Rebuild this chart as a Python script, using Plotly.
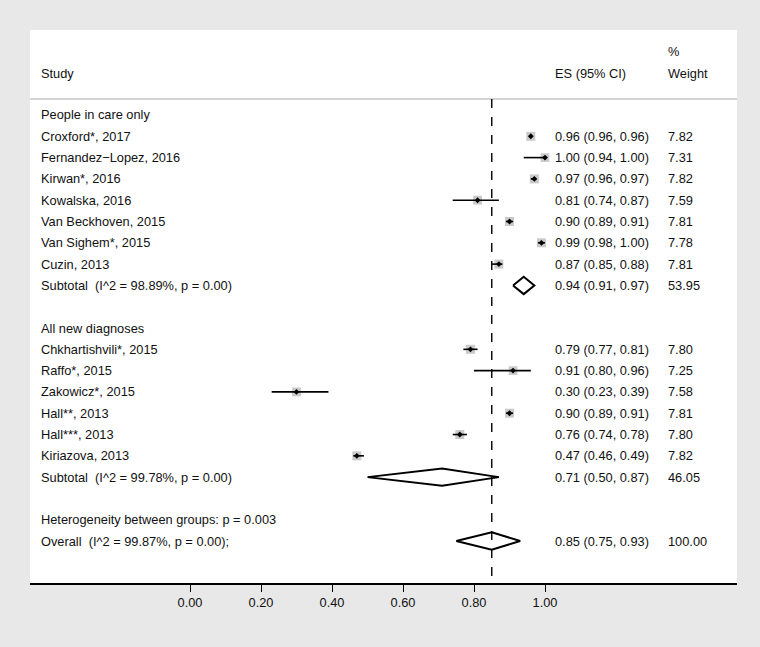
import plotly.graph_objects as go

# ---- data ----
group1_label = "People in care only"
group1_studies = ["Croxford*, 2017", "Fernandez\u2212Lopez, 2016", "Kirwan*, 2016", "Kowalska, 2016",
                  "Van Beckhoven, 2015", "Van Sighem*, 2015", "Cuzin, 2013"]
group1_es = [0.96, 1.00, 0.97, 0.81, 0.90, 0.99, 0.87]
group1_lo = [0.96, 0.94, 0.96, 0.74, 0.89, 0.98, 0.85]
group1_hi = [0.96, 1.00, 0.97, 0.87, 0.91, 1.00, 0.88]
group1_w = [7.82, 7.31, 7.82, 7.59, 7.81, 7.78, 7.81]
group1_sub = {"label": "Subtotal\u00a0 (I^2 = 98.89%, p = 0.00)", "es": 0.94, "lo": 0.91, "hi": 0.97, "w": 53.95}

group2_label = "All new diagnoses"
group2_studies = ["Chkhartishvili*, 2015", "Raffo*, 2015", "Zakowicz*, 2015", "Hall**, 2013",
                  "Hall***, 2013", "Kiriazova, 2013"]
group2_es = [0.79, 0.91, 0.30, 0.90, 0.76, 0.47]
group2_lo = [0.77, 0.80, 0.23, 0.89, 0.74, 0.46]
group2_hi = [0.81, 0.96, 0.39, 0.91, 0.78, 0.49]
group2_w = [7.80, 7.25, 7.58, 7.81, 7.80, 7.82]
group2_sub = {"label": "Subtotal\u00a0 (I^2 = 99.78%, p = 0.00)", "es": 0.71, "lo": 0.50, "hi": 0.87, "w": 46.05}

heterogeneity_text = "Heterogeneity between groups: p = 0.003"
overall = {"label": "Overall\u00a0 (I^2 = 99.87%, p = 0.00);", "es": 0.85, "lo": 0.75, "hi": 0.93, "w": 100.00}

tick_vals = [0.0, 0.2, 0.4, 0.6, 0.8, 1.0]
tick_text = ["0.00", "0.20", "0.40", "0.60", "0.80", "1.00"]

# ---- layout of rows ----
rows = []  # (row index, kind, label, es, lo, hi, w)
r = 0
rows.append((r, "group", group1_label, None, None, None, None)); r += 1
for s, e, lo, hi, w in zip(group1_studies, group1_es, group1_lo, group1_hi, group1_w):
    rows.append((r, "study", s, e, lo, hi, w)); r += 1
rows.append((r, "sub", group1_sub["label"], group1_sub["es"], group1_sub["lo"], group1_sub["hi"], group1_sub["w"])); r += 2
rows.append((r, "group", group2_label, None, None, None, None)); r += 1
for s, e, lo, hi, w in zip(group2_studies, group2_es, group2_lo, group2_hi, group2_w):
    rows.append((r, "study", s, e, lo, hi, w)); r += 1
rows.append((r, "sub", group2_sub["label"], group2_sub["es"], group2_sub["lo"], group2_sub["hi"], group2_sub["w"])); r += 2
rows.append((r, "group", heterogeneity_text, None, None, None, None)); r += 1
rows.append((r, "sub", overall["label"], overall["es"], overall["lo"], overall["hi"], overall["w"]))

FONT = "Liberation Sans, Arial, Helvetica, sans-serif"
FS = 12.8

fig = go.Figure()

# squares
st = [row for row in rows if row[1] == "study"]
fig.add_trace(go.Scatter(
    x=[row[3] for row in st], y=[row[0] for row in st], mode="markers",
    marker=dict(symbol="square", size=[9 * (row[6] / 7.82) ** 0.5 for row in st],
                color="#b4b4b4", line=dict(width=0)),
    hoverinfo="skip", showlegend=False))

# CI lines
cx, cy = [], []
for row in st:
    cx += [row[4], row[5], None]
    cy += [row[0], row[0], None]
fig.add_trace(go.Scatter(x=cx, y=cy, mode="lines", line=dict(color="black", width=1.6),
                         hoverinfo="skip", showlegend=False))

# point estimates
fig.add_trace(go.Scatter(
    x=[row[3] for row in st], y=[row[0] for row in st], mode="markers",
    marker=dict(symbol="diamond", size=4.5, color="black", line=dict(width=0)),
    hoverinfo="skip", showlegend=False))

# diamonds
dx, dy = [], []
h = 0.41
for row in rows:
    if row[1] == "sub":
        y0, e, lo, hi = row[0], row[3], row[4], row[5]
        dx += [lo, e, hi, e, lo, None]
        dy += [y0, y0 - h, y0, y0 + h, y0, None]
fig.add_trace(go.Scatter(x=dx, y=dy, mode="lines", line=dict(color="black", width=2),
                         hoverinfo="skip", showlegend=False))

ann = []
X_STUDY, X_ES, X_W = 0.0127, 0.7395, 0.8995
for row in rows:
    ann.append(dict(x=X_STUDY, xref="paper", y=row[0], yref="y", text=row[2],
                    xanchor="left", yanchor="middle", showarrow=False))
    if row[3] is not None:
        ann.append(dict(x=X_ES, xref="paper", y=row[0], yref="y",
                        text=f"{row[3]:.2f} ({row[4]:.2f}, {row[5]:.2f})",
                        xanchor="left", yanchor="middle", showarrow=False))
        ann.append(dict(x=X_W, xref="paper", y=row[0], yref="y", text=f"{row[6]:.2f}",
                        xanchor="left", yanchor="middle", showarrow=False))
# headers
ann.append(dict(x=X_STUDY, xref="paper", y=-1.97, yref="y", text="Study",
                xanchor="left", yanchor="middle", showarrow=False))
ann.append(dict(x=X_ES, xref="paper", y=-1.97, yref="y", text="ES (95% CI)",
                xanchor="left", yanchor="middle", showarrow=False))
ann.append(dict(x=X_W, xref="paper", y=-1.97, yref="y", text="Weight",
                xanchor="left", yanchor="middle", showarrow=False))
ann.append(dict(x=X_W, xref="paper", y=-2.96, yref="y", text="%",
                xanchor="left", yanchor="middle", showarrow=False))

shapes = [
    dict(type="line", xref="paper", x0=0, x1=1, yref="y", y0=-0.75, y1=-0.75,
         line=dict(color="#a8a8a8", width=1.2)),
    dict(type="line", xref="x", x0=overall["es"], x1=overall["es"], yref="y", y0=-0.75, y1=21.97,
         line=dict(color="black", width=1.4, dash="dash")),
]

fig.update_layout(
    width=760, height=647,
    margin=dict(l=30, r=23, t=30, b=64),
    paper_bgcolor="#e8e8e8", plot_bgcolor="white",
    font=dict(family=FONT, size=FS, color="#111111"),
    annotations=ann, shapes=shapes,
    xaxis=dict(range=[-0.4507, 1.5408], showgrid=False, zeroline=False,
               tickvals=tick_vals, ticktext=tick_text, ticks="outside", ticklen=7,
               tickwidth=1.3, tickcolor="black", showline=True, linecolor="black",
               linewidth=1.5, tickfont=dict(family=FONT, size=FS, color="#111111")),
    yaxis=dict(range=[21.97, -3.99], showgrid=False, zeroline=False, showticklabels=False,
               showline=False),
    showlegend=False,
)

fig.write_html("out.html", config={"displayModeBar": False},
               post_script="document.body.style.margin='0';document.body.style.overflow='hidden';")
